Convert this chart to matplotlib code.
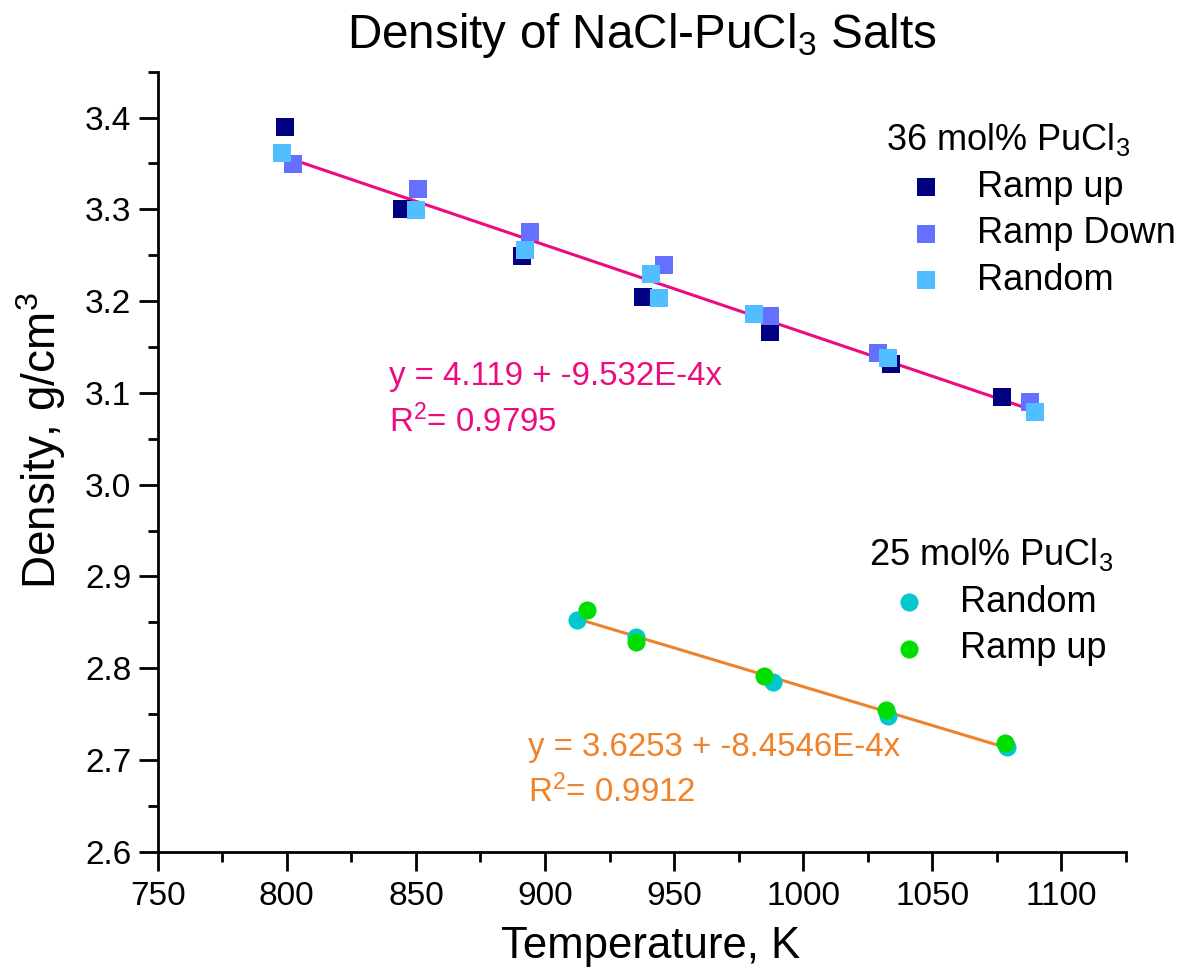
import numpy as np
import matplotlib.pyplot as plt

plt.rcParams['font.family'] = ['Liberation Sans', 'DejaVu Sans']
plt.rcParams['mathtext.fontset'] = 'custom'
plt.rcParams['mathtext.rm'] = 'Liberation Sans'
plt.rcParams['mathtext.it'] = 'Liberation Sans:italic'

# === 36 mol% PuCl3 ===
t36_up = [799.2, 844.8, 891.0, 938.0, 987.0, 1033.9, 1076.9]
d36_up = [3.390, 3.300, 3.249, 3.205, 3.166, 3.131, 3.095]
t36_down = [802.3, 851.0, 894.1, 946.1, 987.1, 1029.0, 1087.9]
d36_down = [3.349, 3.322, 3.275, 3.239, 3.184, 3.144, 3.090]
t36_rand = [798.3, 849.9, 892.1, 940.9, 944.2, 980.9, 1033.0, 1089.8]
d36_rand = [3.361, 3.299, 3.256, 3.230, 3.203, 3.186, 3.138, 3.079]
fit36 = (4.119, -9.532e-4)

# === 25 mol% PuCl3 ===
t25_rand = [912.2, 935.1, 988.1, 1032.8, 1079.1]
d25_rand = [2.852, 2.834, 2.785, 2.748, 2.714]
t25_up = [916.2, 935.1, 984.8, 1032.0, 1078.2]
d25_up = [2.863, 2.829, 2.791, 2.754, 2.718]
fit25 = (3.6253, -8.4546e-4)

W, H = 1183, 972
fig = plt.figure(figsize=(W / 100, H / 100), dpi=100)
ax = fig.add_axes([157.7 / W, 1 - 851.7 / H, (1126 - 157.7) / W, (851.7 - 71.7) / H])

# fit lines
t_all36 = t36_up + t36_down + t36_rand
xx36 = np.array([min(t_all36), max(t_all36)])
ax.plot(xx36, fit36[0] + fit36[1] * xx36, color='#EC0C80', lw=2.2, zorder=1)
t_all25 = t25_rand + t25_up
xx25 = np.array([min(t_all25), max(t_all25)])
ax.plot(xx25, fit25[0] + fit25[1] * xx25, color='#F0822A', lw=2.2, zorder=1)

ms = 150
h1 = ax.scatter(t36_up, d36_up, marker='s', s=ms, color='#000080', lw=0, label='Ramp up', zorder=2)
h2 = ax.scatter(t36_down, d36_down, marker='s', s=ms, color='#6670FF', lw=0, label='Ramp Down', zorder=3)
h3 = ax.scatter(t36_rand, d36_rand, marker='s', s=ms, color='#50BEFF', lw=0, label='Random', zorder=4)
h4 = ax.scatter(t25_rand, d25_rand, marker='o', s=170, color='#00C8CC', lw=0, label='Random', zorder=2)
h5 = ax.scatter(t25_up, d25_up, marker='o', s=170, color='#00DD00', lw=0, label='Ramp up', zorder=3)

# fit equations
ax.text(839.5, 3.1175, 'y = 4.119 + -9.532E-4x', color='#EC0C80', fontsize=23.8, va='center')
ax.text(839.5, 3.068, 'R$^2$= 0.9795', color='#EC0C80', fontsize=23.8, va='center')
ax.text(893.3, 2.714, 'y = 3.6253 + -8.4546E-4x', color='#F0822A', fontsize=23.8, va='center')
ax.text(893.3, 2.665, 'R$^2$= 0.9912', color='#F0822A', fontsize=23.8, va='center')

leg_kw = dict(frameon=False, fontsize=26, title_fontsize=26, alignment='left', loc='upper left',
              borderpad=0, borderaxespad=0, handlelength=2.2, handletextpad=0.33,
              labelspacing=0.32, scatterpoints=1, bbox_transform=fig.transFigure)
leg1 = ax.legend(handles=[h1, h2, h3], title='36 mol% PuCl$_3$',
                 bbox_to_anchor=(886 / W, 1 - 121 / H), **leg_kw)
ax.add_artist(leg1)
ax.legend(handles=[h4, h5], title='25 mol% PuCl$_3$',
          bbox_to_anchor=(869 / W, 1 - 536 / H), **leg_kw)

ax.set_xlim(750, 1125)
ax.set_ylim(2.6, 3.45)
ax.set_xticks(np.arange(750, 1101, 50))
ax.set_xticks(np.arange(775, 1126, 50), minor=True)
ax.set_yticks(np.arange(2.6, 3.41, 0.1))
ax.set_yticks(np.arange(2.65, 3.46, 0.1), minor=True)
ax.yaxis.set_major_formatter(plt.FormatStrFormatter('%.1f'))
ax.tick_params(which='major', length=14, width=2, labelsize=24, direction='out')
ax.tick_params(which='minor', length=7, width=2, direction='out')
ax.tick_params(axis='x', which='major', pad=7)
ax.tick_params(axis='y', which='major', pad=5)
ax.spines['top'].set_visible(False)
ax.spines['right'].set_visible(False)
ax.spines['left'].set_linewidth(2)
ax.spines['bottom'].set_linewidth(2)

ax.set_xlabel('Temperature, K', fontsize=31.5, labelpad=10)
ax.xaxis.label.set_x(0.5094)
ax.set_ylabel('Density, g/cm$^3$', fontsize=33, labelpad=12)
ax.yaxis.label.set_y(0.527)
ax.set_title('Density of NaCl-PuCl$_3$ Salts', fontsize=34.3, pad=17)

fig.savefig('out.png', dpi=100)
